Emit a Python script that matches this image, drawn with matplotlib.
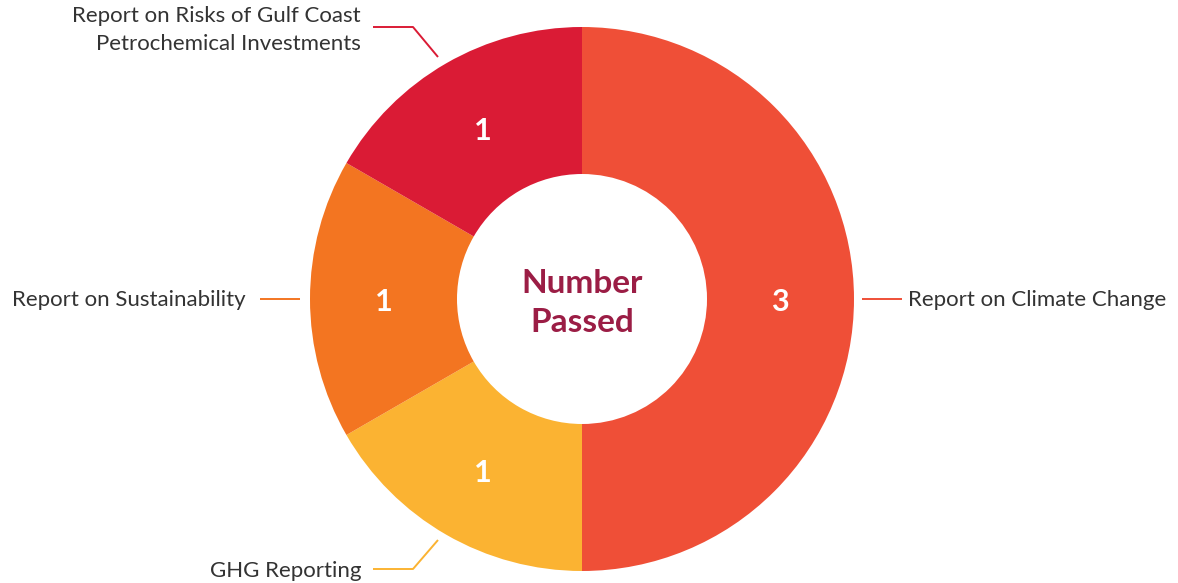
import matplotlib.pyplot as plt

labels = ["Report on Climate Change", "GHG Reporting",
          "Report on Sustainability",
          "Report on Risks of Gulf Coast\nPetrochemical Investments"]
values = [3, 1, 1, 1]
colors = ["#EF4F37", "#FBB332", "#F37521", "#DA1B35"]
center_title = "Number\nPassed"

W, H = 1178, 583
CX, CY = 582, H - 299
R_OUT, R_IN = 272, 125

plt.rcParams["font.family"] = ["Lato", "DejaVu Sans"]

fig = plt.figure(figsize=(W / 100, H / 100), dpi=100)
ax = fig.add_axes([0, 0, 1, 1])

wedges, _, autotexts = ax.pie(
    values, colors=colors, startangle=90, counterclock=False,
    center=(CX, CY), radius=R_OUT, frame=True,
    wedgeprops=dict(width=R_OUT - R_IN, linewidth=0),
    autopct=lambda p: f"{round(p * sum(values) / 100):d}",
    pctdistance=198 / R_OUT,
    textprops=dict(color="white", fontsize=22, fontweight="bold"),
)
# nudge the value labels down a touch so they sit optically centred
for t in autotexts:
    x, y = t.get_position()
    t.set_position((x, y - 3))

ax.set_xlim(0, W)
ax.set_ylim(0, H)
ax.set_aspect("equal")
ax.axis("off")

ax.text(CX, CY - 4, center_title, ha="center", va="center", fontsize=24,
        fontweight="bold", color="#9B1D45", linespacing=1.45)

# leader lines and labels (pixel coords, y measured from top)
leaders = [
    ([862, 902], [299, 299], (908, 300), "left"),
    ([438, 413, 373], [540, 569, 569], (361, 571), "right"),
    ([300, 260], [299, 299], (246, 300), "right"),
    ([438, 413, 373], [57, 27, 27], (361, 30), "right"),
]
for (xs, ys, (tx, ty), ha), lab, col in zip(leaders, labels, colors):
    ax.plot(xs, [H - y for y in ys], color=col, linewidth=1.4,
            solid_capstyle="butt")
    ax.text(tx, H - ty, lab, ha=ha, va="center", fontsize=16,
            color="#333333", linespacing=1.5, multialignment="right")

fig.savefig("out.png", dpi=100)
